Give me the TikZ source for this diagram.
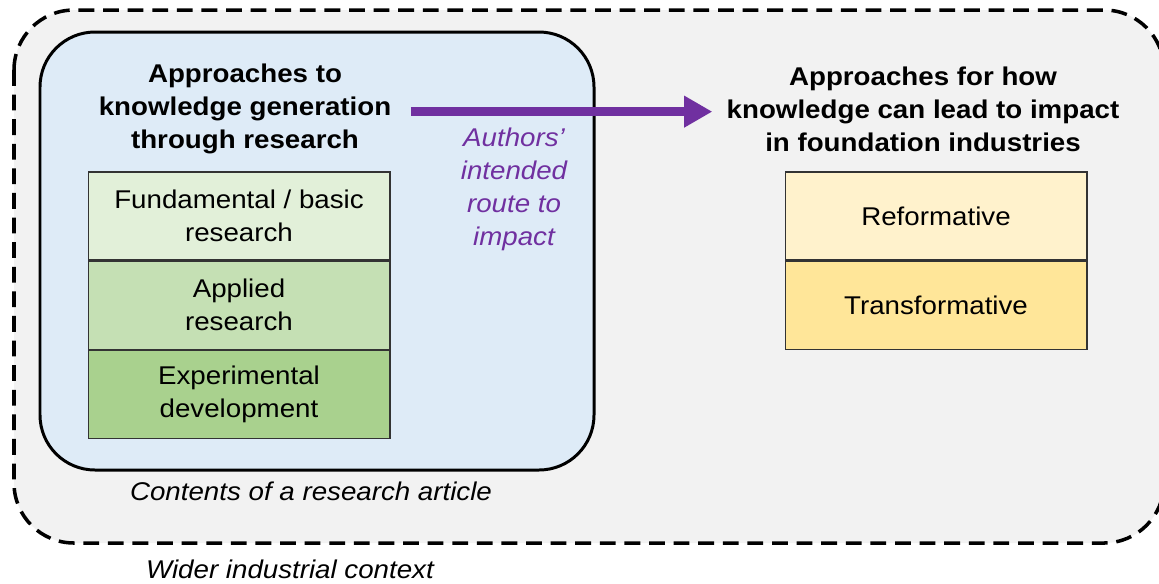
\documentclass[tikz,border=0pt]{standalone}
\usepackage{fontspec}
\setmainfont{Liberation Sans}[FakeStretch=1.08]
\usetikzlibrary{positioning,arrows.meta}
\definecolor{contextgrey}{HTML}{F2F2F2}
\definecolor{articleblue}{HTML}{DEEBF7}
\definecolor{greenA}{HTML}{E2F0D9}
\definecolor{greenB}{HTML}{C5E0B4}
\definecolor{greenC}{HTML}{A9D18E}
\definecolor{yellowA}{HTML}{FFF2CC}
\definecolor{yellowB}{HTML}{FFE699}
\definecolor{routepurple}{HTML}{7030A0}
\begin{document}
\begin{tikzpicture}[
  x=0.02cm, y=-0.02cm,
  every node/.style={font=\fontsize{14.6}{18.8}\selectfont, align=center},
  box/.style={draw=black!80, line width=0.6pt, minimum width=6.04cm, minimum height=1.76cm, inner sep=0pt},
  title/.style={font=\fontsize{14.6}{18.8}\selectfont\bfseries, inner sep=0pt},
  note/.style={font=\fontsize{14.6}{18.8}\selectfont\itshape}
]
\useasboundingbox (0,0) rectangle (1159,583);
% wider context and research article
\draw[fill=contextgrey, dash pattern=on 9pt off 5pt, line width=2pt, rounded corners=1.2cm] (14,10) rectangle (1164,543);
\draw[fill=articleblue, line width=1.7pt, rounded corners=1.1cm] (40,32) rectangle (594,470);
\node[title] (knowgen) at (245,109) {Approaches to\\knowledge generation\\through research};
\node[title] (impact) at (923,109) {Approaches for how\\knowledge can lead to impact\\in foundation industries};
% research approaches
\node[box, fill=greenA] (fundamental) at (239,216) {Fundamental / basic\\research};
\node[box, fill=greenB, below=0pt of fundamental] (applied) {Applied\\research};
\node[box, fill=greenC, below=0pt of applied] (experimental) {Experimental\\development};
% impact approaches
\node[box, fill=yellowA] (reformative) at (936,216) {Reformative};
\node[box, fill=yellowB, below=0pt of reformative] (transformative) {Transformative};
% route
\draw[routepurple, line width=5pt, -{Triangle[length=16pt, width=17pt]}, shorten <=11pt, shorten >=8pt]
  ([yshift=-1.5pt]knowgen.east) -- ([yshift=-1.5pt]knowgen.east -| impact.west);
\node[note, text=routepurple] (route) at (514,189) {Authors'\\intended\\route to\\impact};
\node[note] (article) at (311,491) {Contents of a research article};
\node[note] (context) at (290,569) {Wider industrial context};
\end{tikzpicture}
\end{document}
